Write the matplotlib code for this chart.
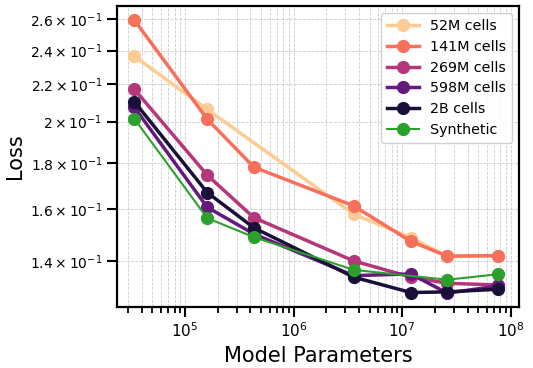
import matplotlib
matplotlib.use("Agg")
import matplotlib.pyplot as plt
from matplotlib.ticker import FixedLocator, FixedFormatter, NullLocator, LogLocator

# Data
params_all = [3.4e4, 1.6e5, 4.3e5, 3.57e6, 1.2e7, 2.6e7, 7.7e7]
params_52m = [3.4e4, 1.6e5, 3.57e6, 1.2e7, 2.6e7, 7.7e7]
params_syn = [3.4e4, 1.6e5, 4.3e5, 3.57e6, 2.6e7, 7.7e7]

loss_52m = [0.2366, 0.2064, 0.1578, 0.1486, 0.1417, 0.1419]
loss_141m = [0.2596, 0.2013, 0.1780, 0.1612, 0.1472, 0.1417, 0.1419]
loss_269m = [0.2174, 0.1744, 0.1564, 0.1400, 0.1343, 0.1322, 0.1316]
loss_598m = [0.2076, 0.1606, 0.1500, 0.1348, 0.1354, 0.1289, 0.1313]
loss_2b = [0.2106, 0.1668, 0.1524, 0.1343, 0.1291, 0.1293, 0.1302]
loss_syn = [0.2016, 0.1562, 0.1488, 0.1368, 0.1334, 0.1353]

labels = ["52M cells", "141M cells", "269M cells", "598M cells", "2B cells", "Synthetic"]
colors = ["#fecb92", "#f7705c", "#b5367a", "#65197f", "#190f38", "#2ca02c"]

ytick_vals = [0.14, 0.16, 0.18, 0.20, 0.22, 0.24, 0.26]
ytick_labels = [r"$\mathdefault{1.4\times10^{-1}}$", r"$\mathdefault{1.6\times10^{-1}}$",
                r"$\mathdefault{1.8\times10^{-1}}$", r"$\mathdefault{2\times10^{-1}}$",
                r"$\mathdefault{2.2\times10^{-1}}$", r"$\mathdefault{2.4\times10^{-1}}$",
                r"$\mathdefault{2.6\times10^{-1}}$"]

fig = plt.figure(figsize=(5.33, 3.68), dpi=100)
ax = fig.add_axes([0.2195, 0.1658, 0.7542, 0.8179])

series = [
    (params_52m, loss_52m, 2.5),
    (params_all, loss_141m, 2.5),
    (params_all, loss_269m, 2.5),
    (params_all, loss_598m, 2.5),
    (params_all, loss_2b, 2.5),
    (params_syn, loss_syn, 1.5),
]
for (xs, ys, lw), lab, c in zip(series, labels, colors):
    ax.plot(xs, ys, marker="o", markersize=8.5, lw=lw, color=c, label=lab)

ax.set_xscale("log")
ax.set_yscale("log")
ax.set_xlim(2.36e4, 1.19e8)
ax.set_ylim(0.1244, 0.2690)

ax.yaxis.set_major_locator(FixedLocator(ytick_vals))
ax.yaxis.set_major_formatter(FixedFormatter(ytick_labels))
ax.yaxis.set_minor_locator(NullLocator())
ax.xaxis.set_minor_locator(LogLocator(base=10, subs=range(2, 10), numticks=20))

ax.grid(True, which="both", ls="--", color="#cccccc", lw=0.6)
ax.set_axisbelow(True)

for s in ax.spines.values():
    s.set_linewidth(1.6)
ax.tick_params(axis="both", which="major", width=1.5, length=7, labelsize=10)
ax.tick_params(axis="x", which="major", labelsize=11)
ax.tick_params(axis="x", which="minor", width=1.3, length=4.5)

ax.set_xlabel("Model Parameters", fontsize=15)
ax.set_ylabel("Loss", fontsize=15)

ax.legend(loc="upper right", fontsize=10.3, handlelength=2.2, borderaxespad=0.5,
          labelspacing=0.48, framealpha=0.9)

fig.savefig("out.png", dpi=100)
